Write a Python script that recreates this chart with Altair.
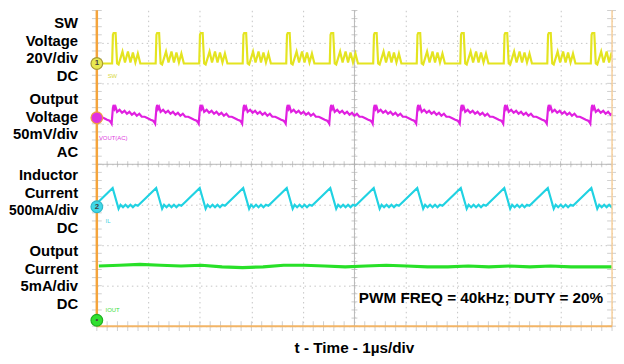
import altair as alt
import pandas as pd

# ---------------- scope screen ----------------
X_DIVS = 10                      # 1 µs/div
Y_TOP = 320 / 41                 # visible top of the screen, in divisions

# channel ground markers (div) and scale per division
SW_LEVEL, SW_PER_DIV = 6.49, 20.0        # V
VOUT_LEVEL, VOUT_PER_DIV = 5.15, 50.0    # mV (AC)
IL_LEVEL, IL_PER_DIV = 2.95, 500.0       # mA
IOUT_LEVEL, IOUT_PER_DIV = 0.146, 5.0    # mA

# switching edges (µs)
rise_times = [-0.548, 0.297, 1.142, 1.987, 2.831, 3.676, 4.521, 5.364,
              6.209, 7.054, 7.898, 8.743, 9.588]

# one switching cycle of each trace, offsets in ns from the edge
sw_offset_ns = [0, 15, 29, 67, 96, 125, 201, 249, 307, 355, 403, 451, 499, 547]
sw_volts = [0, 14.2, 15.1, 15.1, 0, -0.5, 5.9, 0.5, 5.9, 0.5, 5.4, 0.5, 4.9, 0]

vout_offset_ns = [-10, 15, 29, 48, 67, 96, 144, 192, 240, 287, 335, 383, 431,
                  479, 527, 575, 632, 690, 747, 795, 824]
vout_mv = [-7.3, 12.2, 15.9, 11.0, 13.4, 7.3, 9.8, 6.1, 8.5, 4.9, 7.3, 3.7,
           6.1, 2.4, 4.9, 1.2, 1.2, -0.6, -2.4, -3.7, -6.1]

il_offset_ns = [10, 125, 163, 211, 259, 307, 355, 403, 451, 499]
il_ma = [232, -24, 25, -6, 25, -6, 25, -6, 25, 12]

iout_ma = [6.7, 6.8, 6.9, 6.8, 6.7, 6.8, 6.6, 6.5, 6.6, 6.8, 6.8, 6.7, 6.6,
           6.7, 6.8, 6.7, 6.6, 6.6, 6.7, 6.6, 6.7, 6.6, 6.7, 6.6, 6.6, 6.6]

channels = ["SW", "VOUT", "IL"]
trace_colors = ["#e4e420", "#e020e0", "#20d2e2"]
iout_color = "#28e028"

label_blocks = [["SW", "Voltage", "20V/div", "DC"],
                ["Output", "Voltage", "50mV/div", "AC"],
                ["Inductor", "Current", "500mA/div", "DC"],
                ["Output", "Current", "5mA/div", "DC"]]
annotation = "PWM FREQ = 40kHz; DUTY = 20%"
x_title = "t - Time - 1µs/div"

FONT = "Liberation Sans"

# ---------------- build tables ----------------
rows = []
specs = [("SW", sw_offset_ns, sw_volts, SW_LEVEL, SW_PER_DIV),
         ("VOUT", vout_offset_ns, vout_mv, VOUT_LEVEL, VOUT_PER_DIV),
         ("IL", il_offset_ns, il_ma, IL_LEVEL, IL_PER_DIV)]
for ch, offs, vals, lvl, per in specs:
    for r in rise_times:
        for o, v in zip(offs, vals):
            rows.append({"ch": ch, "t": r + o / 1000.0, "y": lvl + v / per})
traces = pd.DataFrame(rows)

n = len(iout_ma)
iout = pd.DataFrame({"t": [0.04 + i * (9.96 / (n - 1)) for i in range(n)],
                     "y": [IOUT_LEVEL + v / IOUT_PER_DIV for v in iout_ma]})

xs = alt.Scale(domain=[0, X_DIVS], nice=False, zero=False)
ys = alt.Scale(domain=[0, Y_TOP], nice=False, zero=False)
xaxis = alt.Axis(values=list(range(11)), grid=True, labels=False, ticks=False,
                 domain=False, gridColor="#c4c4c4", gridDash=[1.5, 3.5], gridWidth=1)
yaxis = alt.Axis(values=list(range(9)), grid=True, labels=False, ticks=False,
                 domain=False, gridColor="#c4c4c4", gridDash=[1.5, 3.5], gridWidth=1)
X = lambda f="t": alt.X(f"{f}:Q", scale=xs, axis=xaxis, title=None)
Y = lambda f="y": alt.Y(f"{f}:Q", scale=ys, axis=yaxis, title=None)

# centre cross
cross_v = alt.Chart(pd.DataFrame({"t": [5]})).mark_rule(color="#b8b8b8", strokeWidth=1).encode(x=X())
cross_h = alt.Chart(pd.DataFrame({"y": [4]})).mark_rule(color="#b8b8b8", strokeWidth=1).encode(y=Y())

minor_x = [k * 0.2 for k in range(51)]
minor_y = [k * 0.2 for k in range(40)]
ticks_h = alt.Chart(pd.DataFrame({"t": minor_x, "y": [4] * len(minor_x)})).mark_tick(
    orient="vertical", size=6, thickness=1, color="#b0b0b0").encode(x=X(), y=Y())
ticks_v = alt.Chart(pd.DataFrame({"t": [5] * len(minor_y), "y": minor_y})).mark_tick(
    orient="horizontal", size=6, thickness=1, color="#b0b0b0").encode(x=X(), y=Y())
ticks_left = alt.Chart(pd.DataFrame({"t": [0] * len(minor_y), "y": minor_y})).mark_tick(
    orient="horizontal", size=10, thickness=1, color="#bbbbbb").encode(x=X(), y=Y())
ticks_right = alt.Chart(pd.DataFrame({"t": [10] * len(minor_y), "y": minor_y})).mark_tick(
    orient="horizontal", size=10, thickness=1, color="#bbbbbb").encode(x=X(), y=Y())
ticks_bottom = alt.Chart(pd.DataFrame({"t": minor_x, "y": [0] * len(minor_x)})).mark_tick(
    orient="vertical", size=10, thickness=1, color="#bbbbbb").encode(x=X(), y=Y())

lines = alt.Chart(traces).mark_line(clip=True, strokeWidth=2.2).encode(
    x=X(), y=Y(),
    color=alt.Color("ch:N", scale=alt.Scale(domain=channels, range=trace_colors), legend=None),
    detail="ch:N", order=alt.Order("t:Q"))
green = alt.Chart(iout).mark_line(clip=True, strokeWidth=3.2, color=iout_color).encode(x=X(), y=Y())

# borders
b_left = alt.Chart(pd.DataFrame({"t": [0]})).mark_rule(color="#f4a43c", strokeWidth=2.5).encode(x=X())
b_right = alt.Chart(pd.DataFrame({"t": [10]})).mark_rule(color="#f6cf9c", strokeWidth=1.5).encode(x=X())
b_bottom = alt.Chart(pd.DataFrame({"y": [0]})).mark_rule(color="#f2b466", strokeWidth=2).encode(y=Y())

# channel markers
markers = pd.DataFrame({"t": [0, 0, 0, 0],
                        "y": [SW_LEVEL, VOUT_LEVEL, IL_LEVEL, IOUT_LEVEL],
                        "ch": ["SW", "VOUT", "IL", "IOUT"],
                        "num": ["1", "", "2", "•"]})
mk = alt.Chart(markers).mark_point(filled=True, size=140, opacity=1, strokeWidth=1.2).encode(
    x=X(), y=Y(),
    fill=alt.Fill("ch:N", scale=alt.Scale(domain=["SW", "VOUT", "IL", "IOUT"],
                  range=["#e8e850", "#e030e0", "#40d8e8", "#30e030"]), legend=None),
    stroke=alt.Stroke("ch:N", scale=alt.Scale(domain=["SW", "VOUT", "IL", "IOUT"],
                      range=["#a89a30", "#f0a040", "#30b8c8", "#20b020"]), legend=None))
mk_txt = alt.Chart(markers).mark_text(font=FONT, fontSize=8, fontWeight="bold",
                                      color="#444444", baseline="middle", align="center").encode(
    x=X(), y=Y(), text="num:N")

# tiny on-screen channel tags
small_specs = [(0.21, 6.17, "SW", "#d8d840"), (0.04, 4.66, "VOUT(AC)", "#e040e0"),
               (0.17, 2.59, "IL", "#40d0e0"), (0.17, 0.39, "IOUT", "#40e040")]
small_layers = [
    alt.Chart(pd.DataFrame({"t": [t], "y": [y], "txt": [s]})).mark_text(
        font=FONT, fontSize=6, align="left", baseline="middle", color=c).encode(
        x=X(), y=Y(), text="txt:N")
    for t, y, s, c in small_specs]

# left labels (outside the screen); the widest line is set a little smaller so it fits
lab_rows = []
block_top = [18, 95, 172, 249]
for b, lines_ in enumerate(label_blocks):
    for i, s in enumerate(lines_):
        lab_rows.append({"txt": s, "py": block_top[b] + i * 17.9,
                         "fs": 14.0 if len(s) > 8 else 15.0})
labels = alt.Chart(pd.DataFrame(lab_rows)).mark_text(
    font=FONT, fontWeight="bold", align="right", baseline="alphabetic",
    color="#000000").encode(x=alt.value(-19), y=alt.Y("py:Q", scale=None), text="txt:N",
                            size=alt.Size("fs:Q", scale=None, legend=None))

note = alt.Chart(pd.DataFrame({"txt": [annotation]})).mark_text(
    font=FONT, fontSize=15.5, fontWeight="bold", align="right", baseline="alphabetic",
    color="#000000").encode(x=alt.value(513), y=alt.value(297), text="txt:N")
title = alt.Chart(pd.DataFrame({"txt": [x_title]})).mark_text(
    font=FONT, fontSize=15.5, fontWeight="bold", align="center", baseline="alphabetic",
    color="#000000").encode(x=alt.value(261), y=alt.value(347), text="txt:N")

chart = alt.layer(
    cross_v, cross_h, ticks_h, ticks_v, ticks_left, ticks_right, ticks_bottom,
    lines, green, b_left, b_right, b_bottom, mk, mk_txt, *small_layers,
    labels, note, title
).properties(
    width=522, height=320,
    autosize=alt.AutoSizeParams(type="none"),
    padding={"left": 90, "top": 0, "right": 4, "bottom": 36},
    background="#ffffff"
).configure_view(stroke=None)

chart.save("out.html", embed_options={"renderer": "svg", "actions": False})
